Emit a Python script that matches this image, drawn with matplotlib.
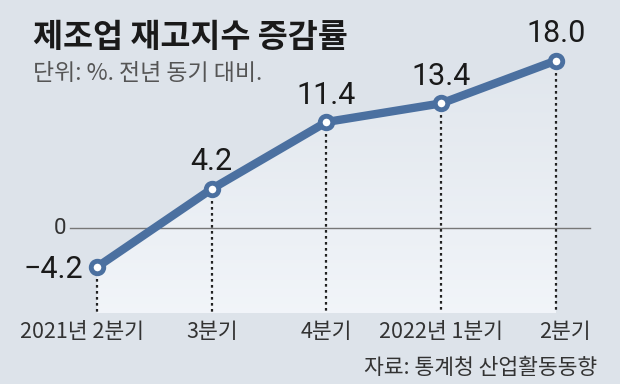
import matplotlib
matplotlib.use("Agg")
import matplotlib.pyplot as plt
import numpy as np
from matplotlib.patches import Polygon

plt.rcParams['font.family'] = ['Noto Sans CJK KR', 'DejaVu Sans']

categories = ["2021년 2분기", "3분기", "4분기", "2022년 1분기", "2분기"]
values = [-4.2, 4.2, 11.4, 13.4, 18.0]
value_labels = ["\u22124.2", "4.2", "11.4", "13.4", "18.0"]
title = "제조업 재고지수 증감률"
subtitle = "단위: %. 전년 동기 대비."
source = "자료: 통계청 산업활동동향"

W, H = 620, 384
bg = "#dde3ea"
line_c = "#4b70a0"
fig = plt.figure(figsize=(W/100, H/100), dpi=100, facecolor=bg)
ax = fig.add_axes([0, 0, 1, 1])
ax.set_facecolor(bg)

# pixel mapping
x0px, dxpx = 97, 114.75
y0px, pxu = 228, 9.3
xlim = (-x0px/dxpx, (W-x0px)/dxpx)
ylim = (-(H-y0px)/pxu, y0px/pxu)
ax.axis('off')

x = np.arange(len(values))
ybot = -(313-y0px)/pxu

# gradient under line
poly_pts = [(x[0], ybot)] + list(zip(x, values)) + [(x[-1], ybot)]
poly = Polygon(poly_pts, closed=True, facecolor='none', edgecolor='none')
ax.add_patch(poly)
grad = np.linspace(0, 1, 256).reshape(-1, 1)
rgba = np.zeros((256, 1, 4))
rgba[..., 0] = 0.96
rgba[..., 1] = 0.97
rgba[..., 2] = 0.985
rgba[..., 3] = 0.15 + 0.75*grad
im = ax.imshow(rgba, extent=[x[0], x[-1], ybot, max(values)], origin='upper',
               aspect='auto', zorder=1, interpolation='bilinear')
im.set_clip_path(poly)
ax.set_xlim(*xlim)
ax.set_ylim(*ylim)

# zero line
ax.plot([(70-x0px)/dxpx, (590-x0px)/dxpx], [0, 0], color="#777777", lw=1.0, zorder=2)
ax.text((66-x0px)/dxpx, 0, "0", ha='right', va='center', fontsize=16, color="#333333",
        family=['Roboto', 'DejaVu Sans'])

# dotted verticals
for xi, v in zip(x, values):
    ax.plot([xi, xi], [v, ybot], color="#222222", lw=1.6, ls=(0, (1.2, 1.5)), zorder=2)

ax.plot(x, values, color=line_c, lw=6, zorder=3, solid_capstyle='round')
ax.plot(x, values, 'o', ms=9, mfc='white', mec=line_c, mew=3.5, zorder=4)

# value labels
for i, (xi, v, lab) in enumerate(zip(x, values, value_labels)):
    if i == 0:
        ax.text(xi - 0.12, v - 0.3, lab, ha='right', va='center', fontsize=22, color="#1a1a1a",
                family=['Roboto', 'DejaVu Sans'])
    else:
        ax.text(xi, v + 2.9, lab, ha='center', va='center', fontsize=22, color="#1a1a1a",
                family=['Roboto', 'DejaVu Sans'])

# x labels
label_shift = [-0.13, 0, 0, 0, 0.08]
for xi, c, s in zip(x, categories, label_shift):
    ax.text(xi + s, -(332-y0px)/pxu, c, ha='center', va='center', fontsize=15.5, color="#333333")

fig.text(33/W, 1-38/H, title, ha='left', va='center', fontsize=23.5, fontweight='bold', color="#1a1a1a")
fig.text(33/W, 1-74/H, subtitle, ha='left', va='center', fontsize=16.5, color="#555555")
fig.text(597/W, 1-368/H, source, ha='right', va='center', fontsize=15.5, color="#333333")

fig.savefig("out.png", dpi=100, facecolor=bg)
